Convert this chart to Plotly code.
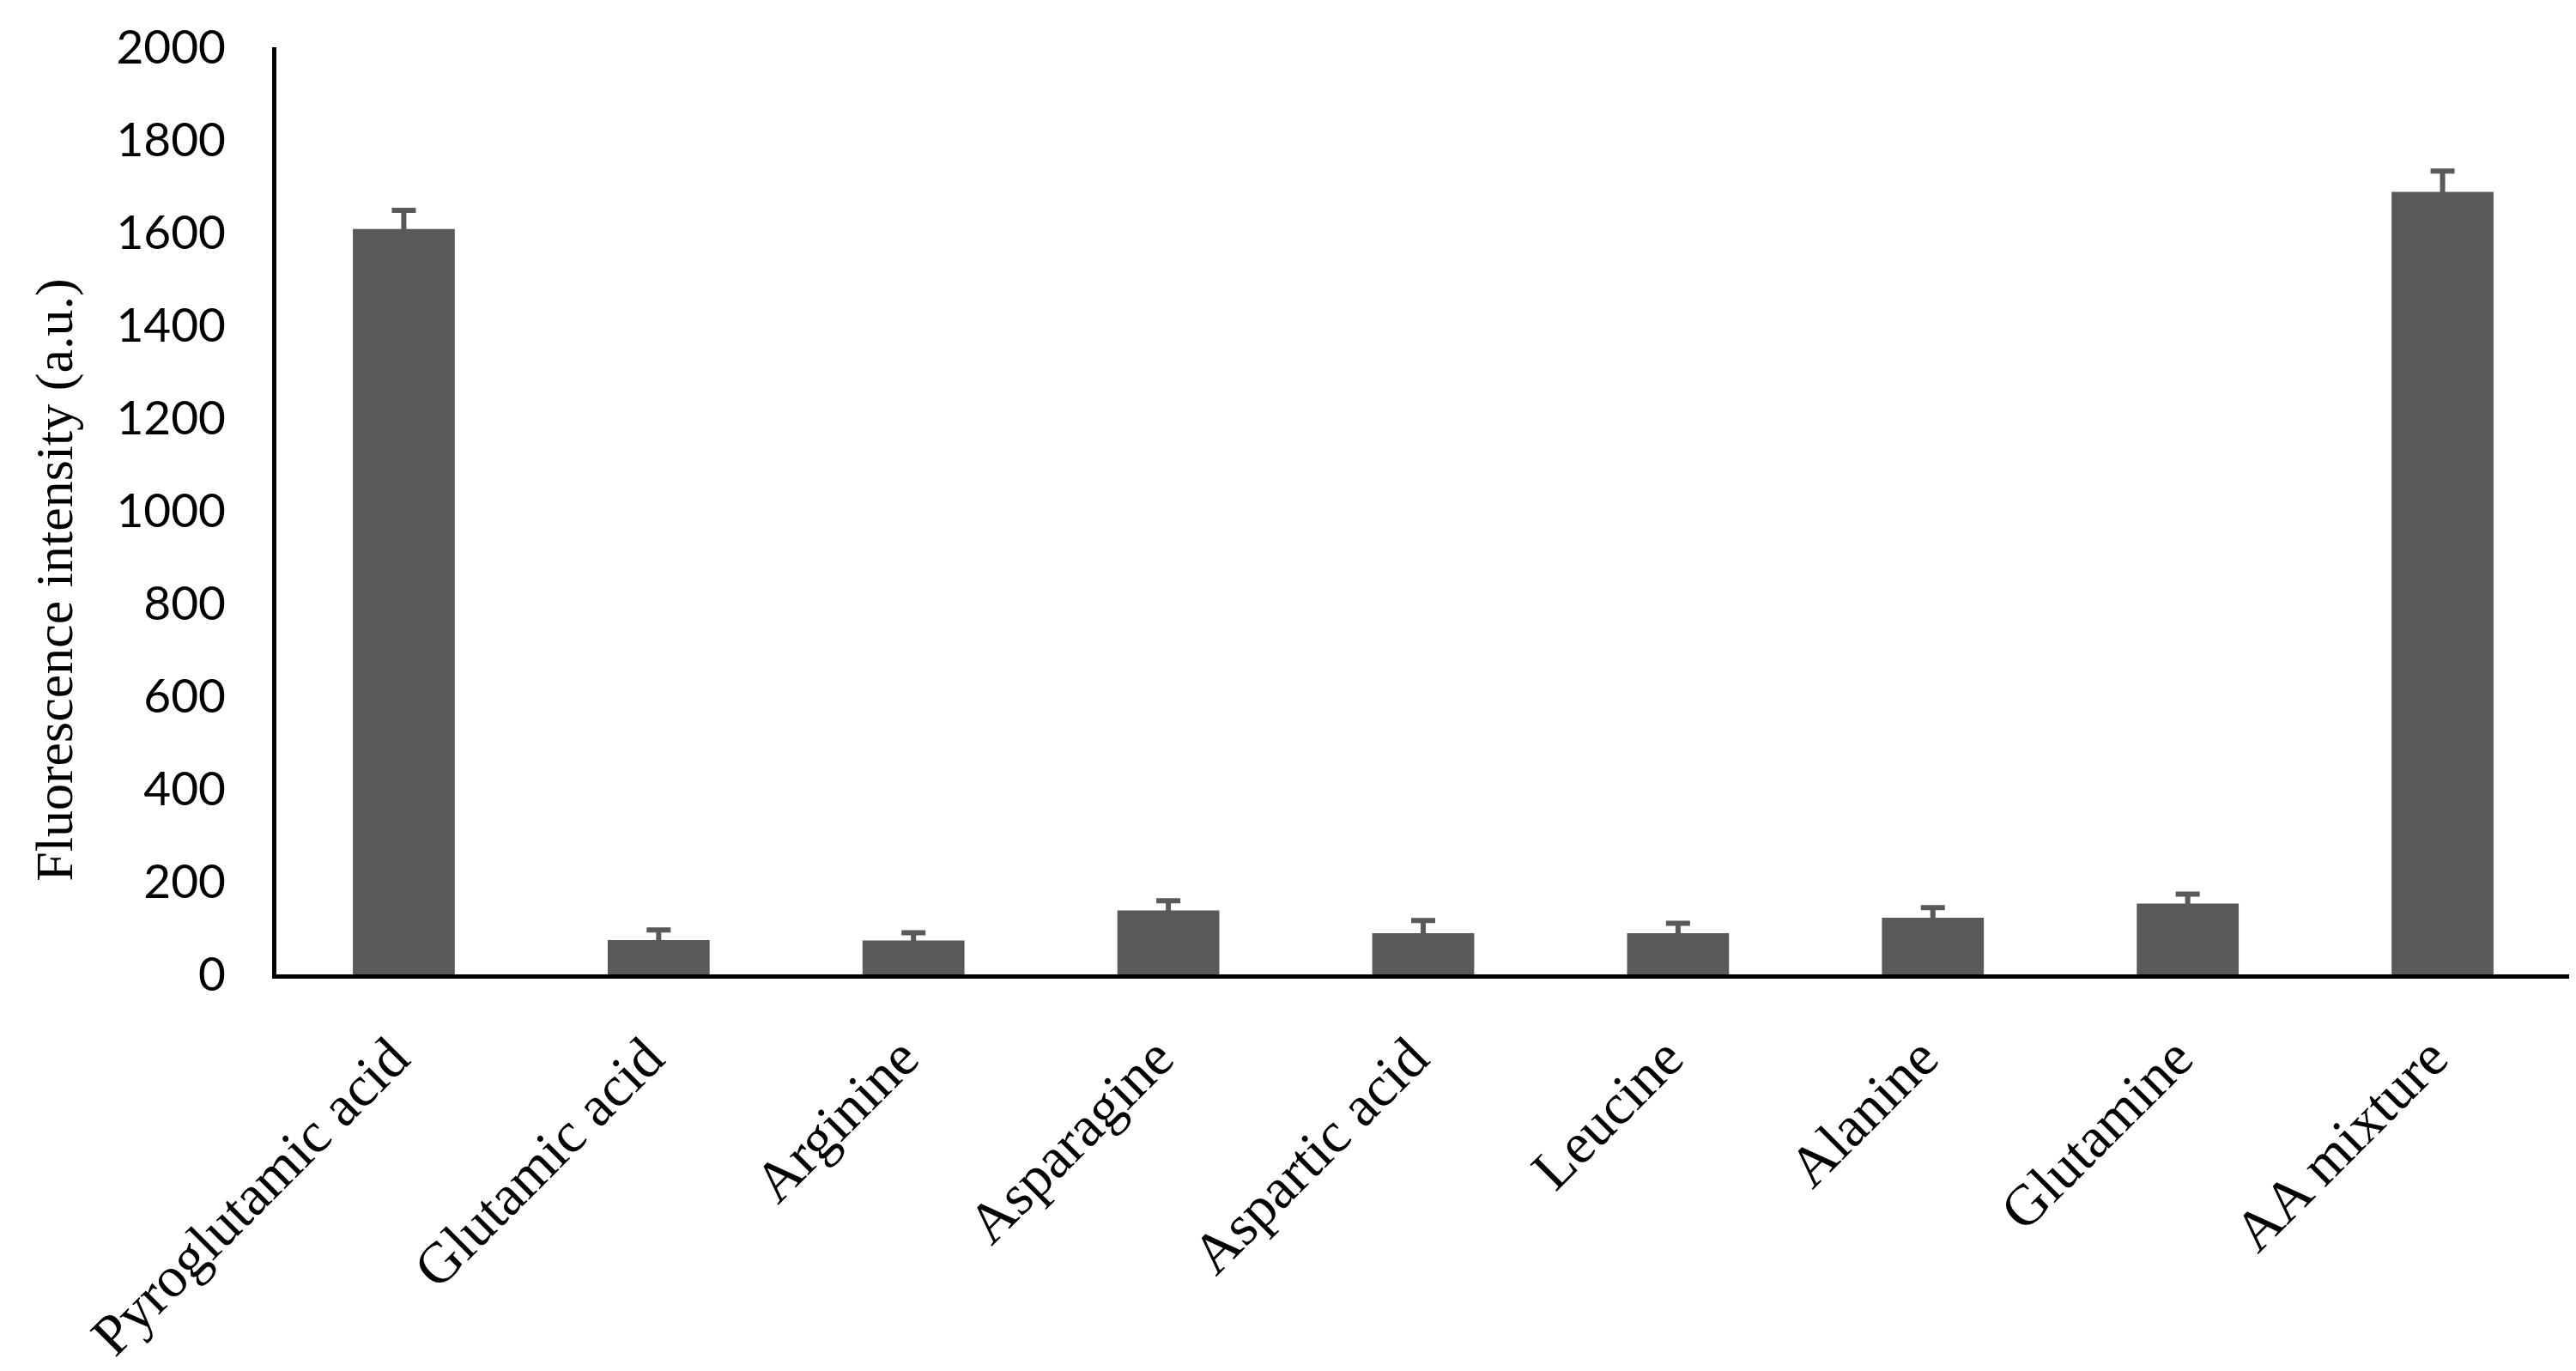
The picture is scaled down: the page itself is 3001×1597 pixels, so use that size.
import plotly.graph_objects as go

# Dane
amino_acids = ["Pyroglutamic acid", "Glutamic acid", "Arginine", "Asparagine",
               "Aspartic acid", "Leucine", "Alanine", "Glutamine", "AA mixture"]
intensity = [1608, 74, 73, 138, 89, 89, 122, 153, 1688]
intensity_err = [40, 22, 17, 21, 27, 21, 22, 20, 45]

bar_color = "#595959"

fig = go.Figure()
fig.add_trace(go.Bar(
    x=amino_acids,
    y=intensity,
    marker=dict(color=bar_color, line=dict(width=0)),
    error_y=dict(type="data", array=intensity_err, visible=True,
                 color=bar_color, thickness=6, width=14),
    showlegend=False,
))

fig.update_layout(
    width=3001, height=1597,
    margin=dict(l=314, r=15, t=40, b=470),
    paper_bgcolor="white",
    plot_bgcolor="white",
    bargap=0.6,
    xaxis=dict(
        showline=True, linecolor="black", linewidth=5,
        showgrid=False, ticks="", tickangle=-45,
        ticklabelstandoff=26, ticklabelshift=-14,
        tickfont=dict(family="Liberation Serif", size=67, color="black"),
    ),
    yaxis=dict(
        range=[0, 2000], dtick=200,
        showline=True, linecolor="black", linewidth=5,
        showgrid=False, ticks="", zeroline=False,
        ticklabelstandoff=43,
        tickfont=dict(family="Lato", size=55, color="black"),
    ),
    annotations=[dict(
        text="Fluorescence intensity (a.u.)",
        textangle=-90, showarrow=False,
        xref="paper", yref="paper",
        x=-0.097, y=0.425, xanchor="center", yanchor="middle",
        font=dict(family="Liberation Serif", size=62, color="black"),
    )],
)

fig.write_html("out.html")
